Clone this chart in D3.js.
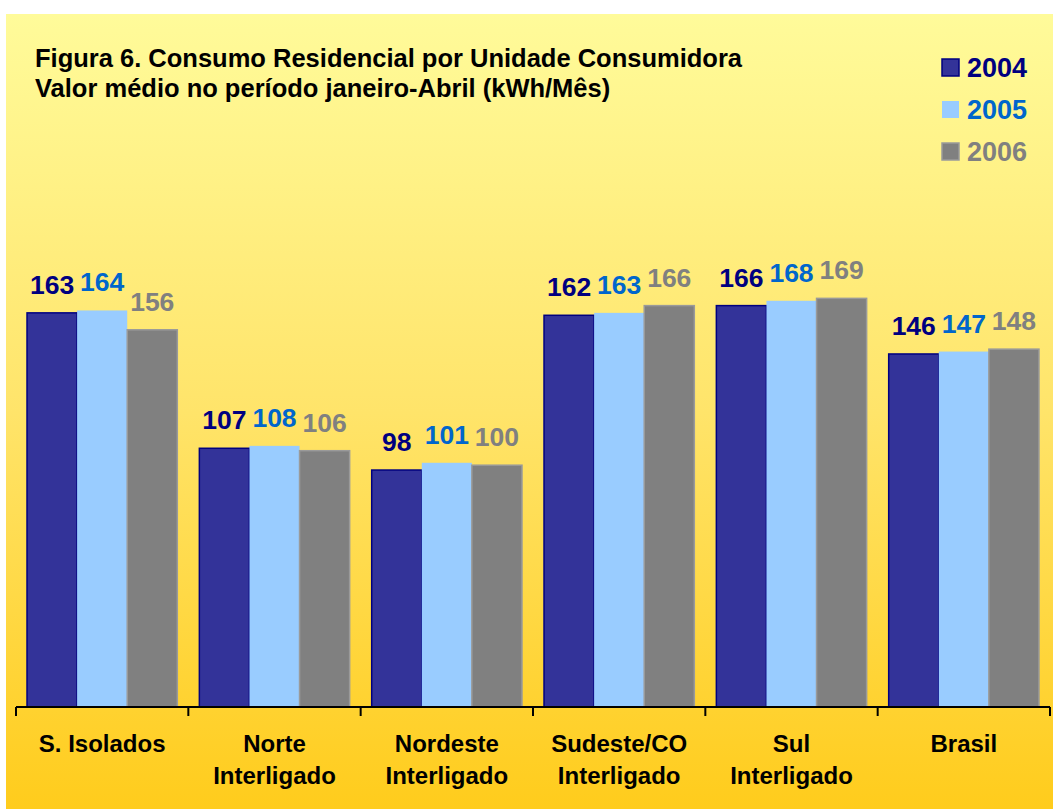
<!DOCTYPE html>
<html>
<head>
<meta charset="utf-8">
<script src="https://cdn.jsdelivr.net/npm/d3@7"></script>
<style>
  body { margin: 0; background: #fff; }
  text { font-family: Arial, Helvetica, "Liberation Sans", sans-serif; font-weight: bold; }
</style>
</head>
<body>
<svg id="chart" width="1053" height="809"></svg>
<script>
// data
const categories = [["S. Isolados"], ["Norte", "Interligado"], ["Nordeste", "Interligado"],
  ["Sudeste/CO", "Interligado"], ["Sul", "Interligado"], ["Brasil"]];
const years = ["2004", "2005", "2006"];
const v2004 = [163, 107, 98, 162, 166, 146];
const v2005 = [164, 108, 101, 163, 168, 147];
const v2006 = [156, 106, 100, 166, 169, 148];
const series = [v2004, v2005, v2006];

const fills = ["#333399", "#99CCFF", "#808080"];
const strokes = ["#000080", "#99CCFF", "#9a9a9a"];
const labelColors = ["#000080", "#0066CC", "#808080"];

const svg = d3.select("#chart");

const defs = svg.append("defs");
const grad = defs.append("linearGradient")
  .attr("id", "bg").attr("x1", 0).attr("y1", 0).attr("x2", 0).attr("y2", 1);
grad.append("stop").attr("offset", "0%").attr("stop-color", "#FFFB9A");
grad.append("stop").attr("offset", "50%").attr("stop-color", "#FFE46A");
grad.append("stop").attr("offset", "100%").attr("stop-color", "#FFCC1C");

svg.append("rect")
  .attr("x", 6).attr("y", 14)
  .attr("width", 1047).attr("height", 795)
  .attr("fill", "url(#bg)");

const x0 = 16, x1 = 1050, baseY = 707;

var xScale = d3.scaleBand()
  .domain(d3.range(categories.length))
  .range([x0, x1])
  .paddingInner(0).paddingOuter(0);

var xInner = d3.scaleBand()
  .domain(d3.range(years.length))
  .range([0, xScale.bandwidth()])
  .paddingOuter(0.22).paddingInner(0);

var yScale = d3.scaleLinear().domain([0, 200]).range([baseY, baseY - 483.6]);

// bars
series.forEach(function (vals, s) {
  var g = svg.append("g").attr("class", "series-" + years[s]);
  g.selectAll("rect")
    .data(vals)
    .enter()
    .append("rect")
    .attr("x", (d, i) => xScale(i) + xInner(s))
    .attr("y", d => yScale(d))
    .attr("width", xInner.bandwidth())
    .attr("height", d => baseY - yScale(d))
    .attr("fill", fills[s])
    .attr("stroke", strokes[s])
    .attr("stroke-width", s === 1 ? 0 : 1.5);

  g.selectAll("text")
    .data(vals)
    .enter()
    .append("text")
    .attr("x", (d, i) => xScale(i) + xInner(s) + xInner.bandwidth() / 2)
    .attr("y", d => yScale(d) - 19)
    .attr("text-anchor", "middle")
    .attr("font-size", 26.5)
    .attr("fill", labelColors[s])
    .text(d => d);
});

// axis
var xAxis = d3.axisBottom(xScale).tickSize(0).tickFormat("");
var gX = svg.append("g")
  .attr("transform", "translate(0," + baseY + ")")
  .call(xAxis);
gX.select(".domain").attr("stroke", "#000").attr("stroke-width", 2)
  .attr("d", "M" + x0 + ",0H" + x1);

var bounds = d3.range(categories.length + 1).map(i => x0 + i * xScale.bandwidth());
gX.selectAll(".sep")
  .data(bounds)
  .enter()
  .append("line")
  .attr("x1", d => d).attr("x2", d => d)
  .attr("y1", 0).attr("y2", 9)
  .attr("stroke", "#000").attr("stroke-width", 2);

var catLabels = svg.append("g").selectAll("text")
  .data(categories)
  .enter()
  .append("text")
  .attr("text-anchor", "middle")
  .attr("font-size", 24)
  .attr("fill", "#000");
catLabels.each(function (lines, i) {
  var t = d3.select(this);
  lines.forEach(function (ln, j) {
    t.append("tspan")
      .attr("x", xScale(i) + xScale.bandwidth() / 2)
      .attr("y", 752 + j * 32)
      .text(ln);
  });
});

// title
svg.append("text").attr("x", 35).attr("y", 67).attr("font-size", 25.5)
  .text("Figura 6. Consumo Residencial por Unidade Consumidora");
svg.append("text").attr("x", 35).attr("y", 97).attr("font-size", 25.5)
  .text("Valor médio no período janeiro-Abril (kWh/Mês)");

// legend
var legend = svg.append("g").selectAll("g")
  .data(years)
  .enter()
  .append("g")
  .attr("transform", (d, i) => "translate(942," + (59 + i * 42) + ")");
legend.append("rect")
  .attr("width", 17).attr("height", 17)
  .attr("fill", (d, i) => fills[i])
  .attr("stroke", (d, i) => strokes[i])
  .attr("stroke-width", (d, i) => i === 1 ? 0 : 1.5);
legend.append("text")
  .attr("x", 25).attr("y", 18)
  .attr("font-size", 27)
  .attr("fill", (d, i) => labelColors[i])
  .text(d => d);
</script>
</body>
</html>
